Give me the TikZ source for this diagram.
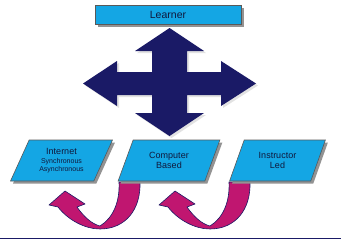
\documentclass[tikz,border=0pt]{standalone}
\usepackage{fontspec}
\setmainfont{Liberation Sans}
\usetikzlibrary{shapes.geometric,shadows}

\definecolor{boxblue}{RGB}{20,166,228}
\definecolor{crossnavy}{RGB}{26,26,102}
\definecolor{turnmagenta}{RGB}{192,22,112}
\definecolor{labelnavy}{RGB}{16,24,60}

\begin{document}
\begin{tikzpicture}[x=1pt,y=-1pt,
  box/.style={draw=gray!70!black, fill=boxblue, text=labelnavy, line width=0.6pt, inner sep=0pt,
    general shadow={fill=gray!85, shadow xshift=2.5pt, shadow yshift=-2.5pt}},
  slant/.style={box, trapezium, trapezium left angle=62, trapezium right angle=118,
    trapezium stretches=true, minimum width=102pt, minimum height=41pt, align=center,
    font=\fontsize{9}{9.2}\selectfont},
  turn/.style={fill=turnmagenta, draw=crossnavy, line width=0.6pt, line join=round}]
  \useasboundingbox (0,0) rectangle (341,241);
  % Top: the learner bar.
  \node[box, minimum width=146pt, minimum height=19pt, font=\fontsize{10.5}{10.5}\selectfont]
    (learner) at (168,14.5) {Learner};
  % Four-way arrow below it.
  \fill[crossnavy, drop shadow={fill=gray!45, shadow xshift=2pt, shadow yshift=-2pt}]
    (169.5,28) -- (204,51) -- (187,51) -- (187,72) -- (221,72) -- (221,61) -- (256,83.5)
    -- (221,106) -- (221,95) -- (187,95) -- (187,113) -- (204,113) -- (169.5,136)
    -- (135,113) -- (152,113) -- (152,95) -- (117,95) -- (117,106) -- (83,83.5)
    -- (117,61) -- (117,72) -- (152,72) -- (152,51) -- (135,51) -- cycle;
  % U-turn arrows, drawn first so the slanted boxes sit on top.
  \foreach \s in {0,110}
    \draw[turn, shift={(\s,0)}] (140,182) .. controls (141,210) and (125,229) .. (100,229)
      .. controls (85,229) and (68,220) .. (58,207) -- (49,205) -- (65,191) -- (85,204)
      -- (77,207) .. controls (84,217) and (92,224) .. (100,226)
      .. controls (113,218) and (120,202) .. (119,182) -- cycle;
  % Three delivery modes.
  \node[slant] (inet) at (61.5,160.5)
    {Internet\\{\fontsize{7}{7}\selectfont Synchronous}\\[-2pt]{\fontsize{7}{7}\selectfont Asynchronous}};
  \node[slant] (comp) at (169,160.5) {Computer\\Based};
  \node[slant, minimum width=96pt] (instr) at (277.5,160.5) {Instructor\\Led};
  % Rule along the bottom.
  \draw[crossnavy, line width=1.5pt] (0,238.5) -- (341,238.5);
\end{tikzpicture}
\end{document}
